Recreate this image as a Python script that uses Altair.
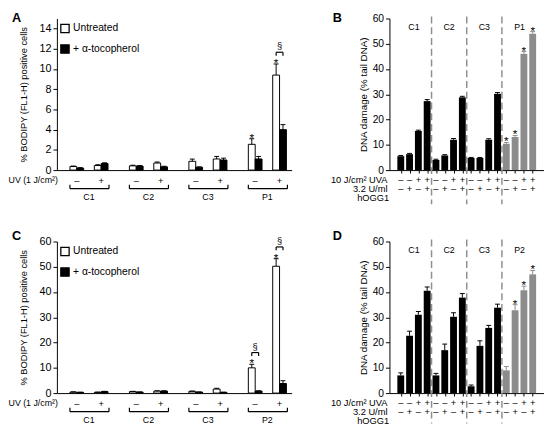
import altair as alt
import pandas as pd

FONT = "Liberation Sans"

# ---------------- data ----------------
GROUPS_A = ["C1", "C2", "C3", "P1"]
GROUPS_C = ["C1", "C2", "C3", "P2"]
UV_SIGNS = ["–", "+"]
TREATS = ["Untreated", "+ α-tocopherol"]

# clusters in order C1–, C1+, C2–, C2+, C3–, C3+, P–, P+
A_UNT = [0.35, 0.45, 0.42, 0.70, 0.87, 1.10, 2.55, 9.40]
A_UNT_ERR = [0.05, 0.08, 0.06, 0.10, 0.22, 0.25, 0.55, 1.10]
A_TOC = [0.20, 0.65, 0.40, 0.32, 0.28, 1.00, 1.10, 4.00]
A_TOC_ERR = [0.04, 0.07, 0.05, 0.06, 0.04, 0.18, 0.25, 0.50]
A_STARS = [6, 7]
A_SECT = [7]

C_UNT = [0.40, 0.30, 0.60, 0.80, 0.70, 1.60, 10.0, 50.2]
C_UNT_ERR = [0.10, 0.10, 0.10, 0.10, 0.10, 0.30, 1.40, 3.00]
C_TOC = [0.30, 0.60, 0.40, 0.80, 0.40, 0.30, 0.80, 3.80]
C_TOC_ERR = [0.05, 0.10, 0.05, 0.10, 0.05, 0.05, 0.10, 1.10]
C_STARS = [6, 7]
C_SECT = [6, 7]

UVA_SIGNS = ["–", "–", "+", "+"]
HOGG_SIGNS = ["–", "+", "–", "+"]

B_VALS = [5.5, 6.3, 15.5, 27.3, 4.0, 5.8, 12.0, 28.8, 4.8, 4.8, 12.0, 30.2, 10.4, 13.1, 46.0, 54.0]
B_ERR = [0.3, 0.3, 0.3, 0.6, 0.3, 0.3, 0.5, 0.4, 0.2, 0.2, 0.4, 0.5, 0.5, 0.6, 0.9, 0.8]
B_STARS = [12, 13, 14, 15]

D_VALS = [7.0, 22.7, 31.0, 40.5, 7.0, 17.0, 30.2, 37.8, 2.7, 18.7, 25.8, 33.8, 9.0, 32.8, 40.7, 47.0]
D_ERR = [1.0, 1.8, 1.3, 1.5, 0.8, 2.4, 1.6, 1.6, 0.5, 2.0, 1.0, 1.4, 1.5, 2.2, 1.6, 1.5]
D_STARS = [13, 14, 15]

# ---------------- layout ----------------
GAP = 2.44
AC_W, AC_H = 240, 155
AC_FIRST, AC_UNIT = 16, 26
AC_XDOM = [-AC_FIRST / AC_UNIT, (AC_W - AC_FIRST) / AC_UNIT]

BD_W, BD_H = 158, 155
BD_FIRST, BD_STEP = 7, 9.6
BD_XDOM = [-BD_FIRST / BD_STEP, (BD_W - BD_FIRST) / BD_STEP]

one = pd.DataFrame({"k": [0]})


def box_layers(L, T, R, Bm, W, H):
    return [
        alt.Chart(one).mark_rule(strokeOpacity=0).encode(
            x=alt.value(-L), x2=alt.value(W + R), y=alt.value(-T)),
        alt.Chart(one).mark_rule(strokeOpacity=0).encode(
            x=alt.value(-L), x2=alt.value(W + R), y=alt.value(H + Bm)),
    ]


def txt(text, x, y, size=9, align="center", baseline="middle", weight="normal"):
    return alt.Chart(one).mark_text(
        text=text, font=FONT, fontSize=size, align=align, baseline=baseline,
        fontWeight=weight, color="black").encode(x=alt.value(x), y=alt.value(y))


def bodipy_panel(letter, groups, unt, unt_err, toc, toc_err, stars, sects,
                 ymax, ystep, top, bottom, letter_y):
    W, H = AC_W, AC_H
    rows = []
    for i in range(len(unt)):
        g, u = divmod(i, 2)
        pos = g * GAP + u
        for t, (v, e) in enumerate([(unt[i], unt_err[i]), (toc[i], toc_err[i])]):
            rows.append({"cl": i, "pos": pos, "treat": TREATS[t], "value": v,
                         "hi": v + e, "star": t == 0 and i in stars,
                         "sect": t == 0 and i in sects, "uv": UV_SIGNS[u]})
    df = pd.DataFrame(rows)
    clusters = df[df.treat == TREATS[0]]
    grp = pd.DataFrame({"group": groups,
                        "lo": [g * GAP for g in range(len(groups))],
                        "hp": [g * GAP + 1 for g in range(len(groups))],
                        "mid": [g * GAP + 0.5 for g in range(len(groups))]})

    xsc = alt.Scale(domain=AC_XDOM, nice=False, zero=False)
    xax = alt.Axis(labels=False, ticks=False, title=None, grid=False)

    def X(f):
        return alt.X(f, scale=xsc, axis=xax)

    ysc = alt.Scale(domain=[0, ymax], nice=False)
    yax = alt.Axis(values=list(range(0, ymax + 1, ystep)),
                   title="% BODIPY (FL1-H) positive cells", titleFontSize=9.5,
                   titlePadding=11, labelFontSize=11, tickSize=4,
                   labelPadding=2, grid=False)

    def Y(f):
        return alt.Y(f, scale=ysc, axis=yax)

    fill = alt.Fill("treat:N", scale=alt.Scale(domain=TREATS, range=["white", "black"]),
                    legend=alt.Legend(title=None, orient="none", legendX=3, legendY=5,
                                      symbolType="square", symbolSize=72,
                                      symbolStrokeColor="black", symbolStrokeWidth=1.3,
                                      labelFont=FONT, labelFontSize=10.5, labelOffset=3,
                                      rowPadding=6, padding=0, labelColor="black"))
    base = alt.Chart(df)
    layers = []
    for t, off in ((0, -3.5), (1, 3.5)):
        sub = base.transform_filter(alt.datum.treat == TREATS[t])
        layers.append(sub.mark_bar(width=7, xOffset=off, stroke="black", strokeWidth=1,
                                   opacity=1).encode(x=X("pos:Q"), y=Y("value:Q"), fill=fill))
        layers.append(sub.mark_rule(xOffset=off, color="black", strokeWidth=1).encode(
            x=X("pos:Q"), y=Y("value:Q"), y2="hi:Q"))
        layers.append(sub.mark_rule(xOffset=off - 2.5, x2Offset=off + 2.5, color="black",
                                    strokeWidth=1).encode(x=X("pos:Q"), x2="pos:Q", y=Y("hi:Q")))
    st = base.transform_filter(alt.datum.star)
    layers.append(st.mark_text(text="*", font=FONT, fontSize=12, xOffset=-3.5, dy=3,
                               baseline="alphabetic", color="black").encode(
        x=X("pos:Q"), y=Y("hi:Q")))
    sc = base.transform_filter(alt.datum.sect)
    layers.append(sc.mark_rule(xOffset=-3.5, x2Offset=3.5, yOffset=-12, color="black",
                               strokeWidth=1.2).encode(
        x=X("pos:Q"), x2="pos:Q", y=Y("hi:Q")))
    for off in (-3.5, 3.5):
        layers.append(sc.mark_rule(xOffset=off, yOffset=-12, y2Offset=-8.5, color="black",
                                   strokeWidth=1.2).encode(
            x=X("pos:Q"), y=Y("hi:Q"), y2="hi:Q"))
    layers.append(sc.mark_text(text="§", font=FONT, fontSize=9.5, dy=-18, baseline="middle",
                               color="black").encode(x=X("pos:Q"), y=Y("hi:Q")))

    gb = alt.Chart(grp)
    layers.append(gb.mark_rule(xOffset=-7, x2Offset=8, color="black", strokeWidth=1.2).encode(
        x=X("lo:Q"), x2="hp:Q", y=alt.value(H + 19)))
    layers.append(gb.mark_rule(xOffset=-7, color="black", strokeWidth=1.2).encode(
        x=X("lo:Q"), y=alt.value(H + 15), y2=alt.value(H + 19)))
    layers.append(gb.mark_rule(xOffset=8, color="black", strokeWidth=1.2).encode(
        x=X("hp:Q"), y=alt.value(H + 15), y2=alt.value(H + 19)))
    layers.append(gb.mark_text(font=FONT, fontSize=9, baseline="middle", color="black").encode(
        x=X("mid:Q"), y=alt.value(H + 27.5), text="group:N"))
    layers.append(alt.Chart(clusters).mark_text(font=FONT, fontSize=9.5, baseline="middle",
                                                color="black").encode(
        x=X("pos:Q"), y=alt.value(H + 11), text="uv:N"))
    layers.append(txt("UV (1 J/cm²)", 1, H + 10, 9, align="right"))
    layers.append(txt(letter, -46, letter_y, 13, align="left", baseline="top", weight="bold"))
    layers += box_layers(46, top, 38, bottom, W, H)
    return alt.layer(*layers).properties(width=W, height=H)


def comet_panel(letter, groups, vals, errs, stars, top, bottom, letter_y):
    W, H = BD_W, BD_H
    n = len(vals)
    rows = []
    for i in range(n):
        g = i // 4
        rows.append({"pos": i, "value": vals[i], "hi": vals[i] + errs[i],
                     "kind": "P" if g == len(groups) - 1 else "C",
                     "uva": UVA_SIGNS[i % 4], "hogg": HOGG_SIGNS[i % 4],
                     "star": i in stars})
    df = pd.DataFrame(rows)
    grp = pd.DataFrame({"group": groups, "mid": [g * 4 + 1.5 for g in range(len(groups))]})
    sep = pd.DataFrame({"pos": [g * 4 + 3.5 for g in range(len(groups) - 1)]})

    xsc = alt.Scale(domain=BD_XDOM, nice=False, zero=False)
    xax = alt.Axis(values=list(range(n)), labels=False, ticks=True, tickSize=3,
                   title=None, grid=False)

    def X(f):
        return alt.X(f, scale=xsc, axis=xax)

    ysc = alt.Scale(domain=[0, 60], nice=False)
    yax = alt.Axis(values=list(range(0, 61, 10)), title="DNA damage (% tail DNA)",
                   titleFontSize=10, titlePadding=4, labelFontSize=10.5, tickSize=4,
                   labelPadding=2, grid=False)

    def Y(f):
        return alt.Y(f, scale=ysc, axis=yax)

    col = alt.Color("kind:N", scale=alt.Scale(domain=["C", "P"], range=["black", "#8c8c8c"]),
                    legend=None)
    base = alt.Chart(df)
    layers = [
        alt.Chart(sep).mark_rule(strokeDash=[7, 4], color="#8f8f8f", strokeWidth=1.5).encode(
            x=X("pos:Q"), y=alt.value(-2), y2=alt.value(H + bottom - 1)),
        base.mark_bar(width=7, opacity=1).encode(x=X("pos:Q"), y=Y("value:Q"), color=col),
        base.mark_rule(strokeWidth=1).encode(x=X("pos:Q"), y=Y("value:Q"), y2="hi:Q", color=col),
        base.mark_rule(xOffset=-2.5, x2Offset=2.5, strokeWidth=1).encode(
            x=X("pos:Q"), x2="pos:Q", y=Y("hi:Q"), color=col),
        base.transform_filter(alt.datum.star).mark_text(
            text="*", font=FONT, fontSize=12, dy=3, baseline="alphabetic", color="black").encode(
            x=X("pos:Q"), y=Y("hi:Q")),
        alt.Chart(grp).mark_text(font=FONT, fontSize=9, baseline="middle", color="black").encode(
            x=X("mid:Q"), y=alt.value(9), text="group:N"),
        base.mark_text(font=FONT, fontSize=9.5, baseline="middle", color="black").encode(
            x=X("pos:Q"), y=alt.value(H + 10.5), text="uva:N"),
        base.mark_text(font=FONT, fontSize=9.5, baseline="middle", color="black").encode(
            x=X("pos:Q"), y=alt.value(H + 19.5), text="hogg:N"),
        txt("10 J/cm² UVA", -2, H + 10.5, 9.5, align="right"),
        txt("3.2 U/ml", -2, H + 19.5, 9.5, align="right"),
        txt("hOGG1", -33, H + 28.5, 9.5, align="left"),
        txt(letter, -58, letter_y, 13, align="left", baseline="top", weight="bold"),
    ]
    layers += box_layers(62, top, 0, bottom, W, H)
    return alt.layer(*layers).properties(width=W, height=H)


A = bodipy_panel("A", GROUPS_A, A_UNT, A_UNT_ERR, A_TOC, A_TOC_ERR, A_STARS, A_SECT,
                 15, 2, 6, 36, -6)
C = bodipy_panel("C", GROUPS_C, C_UNT, C_UNT_ERR, C_TOC, C_TOC_ERR, C_STARS, C_SECT,
                 60, 10, 37, 32, -12)
B = comet_panel("B", GROUPS_A, B_VALS, B_ERR, B_STARS, 6, 36, -6)
D = comet_panel("D", GROUPS_C, D_VALS, D_ERR, D_STARS, 37, 32, -12)

left = alt.vconcat(A, C, spacing=0).resolve_scale(fill="independent").resolve_legend(
    fill="independent")
right = alt.vconcat(B, D, spacing=0)
chart = alt.hconcat(left, right, spacing=0, padding=0).resolve_scale(
    fill="independent").resolve_legend(fill="independent").configure_view(
    strokeWidth=0).configure_axis(
    labelFont=FONT, titleFont=FONT, labelColor="black", titleColor="black",
    domainColor="black", tickColor="black", titleFontWeight="normal",
    domainWidth=1, tickWidth=1)

chart.save("out.html", embed_options={"renderer": "svg", "actions": False})
